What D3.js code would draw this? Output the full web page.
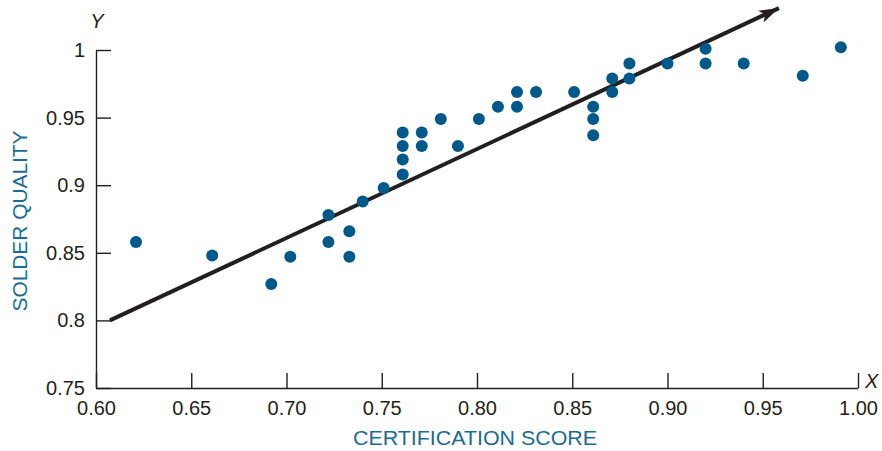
<!DOCTYPE html>
<html>
<head>
<meta charset="utf-8">
<script src="https://cdn.jsdelivr.net/npm/d3@7"></script>
<style>
  html, body { margin: 0; padding: 0; background: #ffffff; }
  svg { display: block; }
  text { font-family: "Liberation Sans", Arial, Helvetica, sans-serif; }
</style>
</head>
<body>
<svg id="chart" width="882" height="451"></svg>
<script>
// ---- data ----
const certScore = [0.621, 0.661, 0.692, 0.702, 0.722, 0.722, 0.733, 0.733, 0.740, 0.751,
  0.761, 0.761, 0.761, 0.761, 0.771, 0.771, 0.781, 0.790, 0.801, 0.811,
  0.821, 0.821, 0.831, 0.851, 0.861, 0.861, 0.861, 0.871, 0.871, 0.880,
  0.880, 0.900, 0.920, 0.920, 0.940, 0.971, 0.991];
const solderQuality = [0.858, 0.848, 0.827, 0.847, 0.878, 0.858, 0.866, 0.847, 0.888, 0.898,
  0.908, 0.919, 0.929, 0.939, 0.939, 0.929, 0.949, 0.929, 0.949, 0.958,
  0.958, 0.969, 0.969, 0.969, 0.958, 0.949, 0.937, 0.979, 0.969, 0.990,
  0.979, 0.990, 1.001, 0.990, 0.990, 0.981, 1.002];
// fitted trend line (start and arrow tip)
const trendX = [0.6073, 0.9585];
const trendY = [0.800, 1.031];

const xTicks = [0.60, 0.65, 0.70, 0.75, 0.80, 0.85, 0.90, 0.95, 1.00];
const xTickLabels = ["0.60", "0.65", "0.70", "0.75", "0.80", "0.85", "0.90", "0.95", "1.00"];
const yTicks = [0.75, 0.80, 0.85, 0.90, 0.95, 1.00];
const yTickLabels = ["0.75", "0.8", "0.85", "0.9", "0.95", "1"];

const xTitle = "CERTIFICATION SCORE";
const yTitle = "SOLDER QUALITY";
const xSym = "X";
const ySym = "Y";

// ---- layout ----
const svg = d3.select("#chart");
const ink = "#231f20";
const blue = "#00598a";
const titleBlue = "#1b6b98";

const x = d3.scaleLinear().domain([0.60, 1.00]).range([96, 858]);
const y = d3.scaleLinear().domain([0.75, 1.00]).range([388, 50]);

// x axis
const xAxis = d3.axisBottom(x)
  .tickValues(xTicks)
  .tickFormat((d, i) => xTickLabels[i])
  .tickSizeInner(-15)
  .tickSizeOuter(0)
  .tickPadding(13);
const gx = svg.append("g").attr("transform", `translate(0,${y(0.75)})`).call(xAxis);
gx.select(".domain").attr("stroke", ink).attr("stroke-width", 1.4);
gx.selectAll(".tick line").attr("stroke", ink).attr("stroke-width", 1.4);
gx.selectAll(".tick text").attr("fill", ink).style("font-size", "20px");

// y axis
const yAxis = d3.axisLeft(y)
  .tickValues(yTicks)
  .tickFormat((d, i) => yTickLabels[i])
  .tickSizeInner(-15)
  .tickSizeOuter(0)
  .tickPadding(11);
const gy = svg.append("g").attr("transform", `translate(${x(0.60)},0)`).call(yAxis);
gy.select(".domain").attr("stroke", ink).attr("stroke-width", 1.4);
gy.selectAll(".tick line").attr("stroke", ink).attr("stroke-width", 1.4);
gy.selectAll(".tick text").attr("fill", ink).style("font-size", "20px");

// axis symbols
svg.append("text").attr("x", x(0.60) + 1).attr("y", 28)
  .attr("text-anchor", "middle").attr("fill", ink)
  .style("font-size", "20px").style("font-style", "italic").text(ySym);
svg.append("text").attr("x", x(1.00) + 7).attr("y", y(0.75))
  .attr("text-anchor", "start").attr("fill", ink)
  .style("font-size", "20px").style("font-style", "italic").text(xSym);

// axis titles
svg.append("text").attr("x", 475).attr("y", 445)
  .attr("text-anchor", "middle").attr("fill", titleBlue)
  .style("font-size", "20px")
  .attr("textLength", 244).attr("lengthAdjust", "spacingAndGlyphs")
  .text(xTitle);
svg.append("text")
  .attr("transform", "translate(27,221) rotate(-90)")
  .attr("text-anchor", "middle").attr("fill", titleBlue)
  .style("font-size", "20px")
  .attr("textLength", 181).attr("lengthAdjust", "spacingAndGlyphs")
  .text(yTitle);

// arrow marker
svg.append("defs").append("marker")
  .attr("id", "arrow")
  .attr("markerUnits", "userSpaceOnUse")
  .attr("viewBox", "0 -7 20 14")
  .attr("refX", 20).attr("refY", 0)
  .attr("markerWidth", 20).attr("markerHeight", 14)
  .attr("orient", "auto")
  .append("path")
  .attr("d", "M0,-6.5 L20,0 L0,6.5 L5,0 Z")
  .attr("fill", ink);

// trend line
svg.append("line")
  .attr("x1", x(trendX[0])).attr("y1", y(trendY[0]))
  .attr("x2", x(trendX[1])).attr("y2", y(trendY[1]))
  .attr("stroke", ink).attr("stroke-width", 4)
  .attr("marker-end", "url(#arrow)");

// points
svg.append("g").selectAll("circle")
  .data(certScore.map((d, i) => [d, solderQuality[i]]))
  .join("circle")
  .attr("cx", d => x(d[0]))
  .attr("cy", d => y(d[1]))
  .attr("r", 6)
  .attr("fill", blue);
</script>
</body>
</html>
